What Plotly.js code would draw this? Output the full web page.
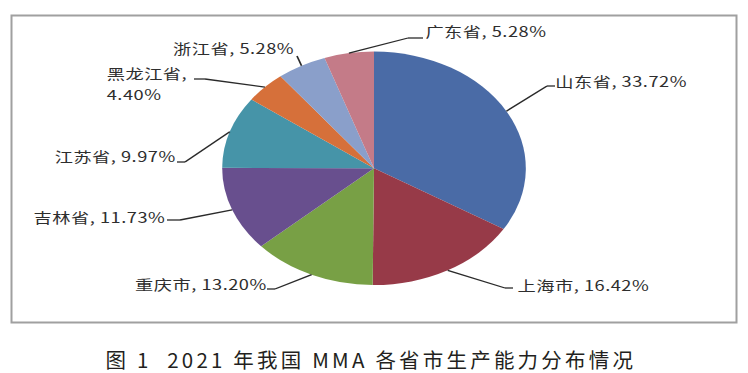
<!DOCTYPE html>
<html><head><meta charset="utf-8">
<script src="https://cdn.plot.ly/plotly-3.0.1.min.js"></script>
<style>
html,body{margin:0;padding:0;background:#fff;}
#wrap{position:relative;width:748px;height:373px;overflow:hidden;}
#base{position:absolute;left:0;top:0;width:748px;height:373px;}
#pie{position:absolute;left:0;top:0;width:575px;height:373px;transform:scaleX(1.30087);transform-origin:0 0;}
#base .annotation-text{letter-spacing:3.2px;}
#pie .annotation-text{letter-spacing:0.4px;}
</style></head><body>
<div id="wrap"><div id="base"></div><div id="pie"></div></div>
<script>
// ---- data ----
const provinces = ['山东省','上海市','重庆市','吉林省','江苏省','黑龙江省','浙江省','广东省'];
const shares = [33.72, 16.42, 13.20, 11.73, 9.97, 4.40, 5.28, 5.28];
const sliceColors = ['#4a6ba6','#973a48','#78a045','#684f8e','#4694a8','#d6703a','#8a9fca','#c47b88'];
const caption = '图 1  2021 年我国 MMA 各省市生产能力分布情况';

// ---- layout constants (final pixel coordinates) ----
const W = 748, H = 373;
const cx = 374, cy = 168.3, ry = 116.7, rx = ry * 1.30087;
const fx = x => x / W, fy = y => 1 - y / H;
// label anchor positions (two rows for the wrapped label) and leader elbows/ends
const labelPos = [
  [{x:556, y:81,  a:'left'}],
  [{x:518, y:285, a:'left'}],
  [{x:267, y:284, a:'right'}],
  [{x:165, y:217, a:'right'}],
  [{x:175, y:156, a:'right'}],
  [{x:105, y:73,  a:'left'}, {x:105, y:94, a:'left'}],
  [{x:294, y:48,  a:'right'}],
  [{x:426, y:31,  a:'left'}]
];
const leaderPts = [
  [[547,86],[555,86]],
  [[505,288],[513,288]],
  [[275,289],[267,289]],
  [[180,220],[167,220]],
  [[185,162],[177,162]],
  [[205,79],[194,79]],
  [[297,56],[297,56]],
  [[408,38],[423,38]]
];

const total = shares.reduce((s,v)=>s+v,0);
let cum = 0;
const annotations = [], shapes = [];
const lineStyle = {color:'#2a2a2a', width:1.3};
const labelFont = {family:'Noto Sans CJK SC, sans-serif', size:14, color:'#2e2e2e'};
shares.forEach((v,i)=>{
  const mid = (cum + v/2) / total * 2 * Math.PI;
  cum += v;
  const ex = cx + rx * Math.sin(mid), ey = cy - ry * Math.cos(mid);
  const [el, en] = leaderPts[i];
  shapes.push({type:'line', xref:'paper', yref:'paper', x0:fx(ex), y0:fy(ey), x1:fx(el[0]), y1:fy(el[1]), line:lineStyle});
  if (el[0] !== en[0] || el[1] !== en[1])
    shapes.push({type:'line', xref:'paper', yref:'paper', x0:fx(el[0]), y0:fy(el[1]), x1:fx(en[0]), y1:fy(en[1]), line:lineStyle});
  const pct = v.toFixed(2) + '%';
  const rows = labelPos[i].length > 1 ? [provinces[i] + ',', pct] : [provinces[i] + ', ' + pct];
  rows.forEach((t,k)=>{
    const p = labelPos[i][k];
    annotations.push({xref:'paper', yref:'paper', x:fx(p.x), y:fy(p.y), xanchor:p.a, yanchor:'middle',
      showarrow:false, text:t, font:labelFont});
  });
});

Plotly.newPlot('pie', [{
  type:'pie', labels:provinces, values:shares, sort:false, direction:'clockwise', rotation:0,
  textinfo:'none', hoverinfo:'skip', showlegend:false,
  marker:{colors:sliceColors, line:{width:0}},
  domain:{x:[fx(cx-rx), fx(cx+rx)], y:[fy(cy+ry), fy(cy-ry)]}
}], {
  width:575, height:373, margin:{l:0,r:0,t:0,b:0},
  paper_bgcolor:'rgba(0,0,0,0)', plot_bgcolor:'rgba(0,0,0,0)',
  showlegend:false, annotations:annotations, shapes:shapes
}, {displayModeBar:false, staticPlot:true});

Plotly.newPlot('base', [], {
  width:W, height:H, margin:{l:0,r:0,t:0,b:0},
  paper_bgcolor:'#ffffff', plot_bgcolor:'#ffffff',
  xaxis:{visible:false}, yaxis:{visible:false},
  shapes:[{type:'rect', xref:'paper', yref:'paper', x0:fx(11.5), x1:fx(736.5), y0:fy(322.5), y1:fy(15.5),
    line:{color:'#a0a0a0', width:2}}],
  annotations:[{xref:'paper', yref:'paper', x:fx(371), y:fy(359), xanchor:'center', yanchor:'middle',
    showarrow:false, text:caption, font:{family:'Noto Sans CJK SC, sans-serif', size:20.5, color:'#231f20'}}]
}, {displayModeBar:false, staticPlot:true});
</script>
</body></html>
